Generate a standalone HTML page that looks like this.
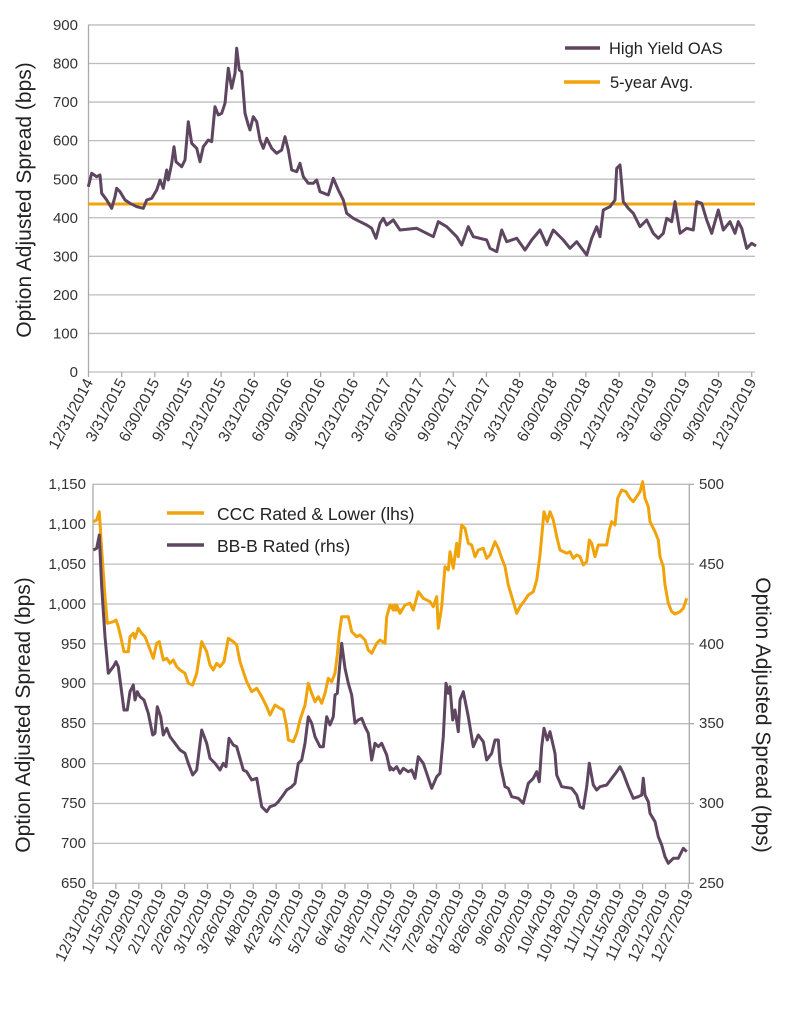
<!DOCTYPE html>
<html><head><meta charset="utf-8"><style>
html,body{margin:0;padding:0;background:#fff}
svg{display:block;font-family:"Liberation Sans",sans-serif}
</style></head><body>
<svg id="s" width="785" height="1024" viewBox="0 0 785 1024" xmlns="http://www.w3.org/2000/svg">
<g id="g1" stroke="#bdbdbd" stroke-width="1.3"></g>
<g font-size="15" fill="#333" text-anchor="end">
<text x="78" y="30">900</text><text x="78" y="68.6">800</text><text x="78" y="107.2">700</text><text x="78" y="145.7">600</text><text x="78" y="184.3">500</text><text x="78" y="222.9">400</text><text x="78" y="261.4">300</text><text x="78" y="300">200</text><text x="78" y="338.6">100</text><text x="78" y="377">0</text>
</g>
<text transform="translate(31,200) rotate(-90)" font-size="21" text-anchor="middle" fill="#222">Option Adjusted Spread (bps)</text>
<g id="xl1" font-size="15.5" fill="#333" text-anchor="end"></g>
<line x1="88" y1="204" x2="755" y2="204" stroke="#f0a30a" stroke-width="3"/>
<polyline id="p1" fill="none" stroke="#5e4560" stroke-width="3" stroke-linejoin="round"/>
<line x1="565" y1="48" x2="600" y2="48" stroke="#5e4560" stroke-width="3.5"/>
<text x="609" y="54" font-size="16.5" fill="#222">High Yield OAS</text>
<line x1="564" y1="82" x2="600" y2="82" stroke="#f0a30a" stroke-width="3.5"/>
<text x="610" y="88" font-size="16.5" fill="#222">5-year Avg.</text>

<g id="g2" stroke="#bdbdbd" stroke-width="1.3"></g>
<g font-size="15" fill="#333" text-anchor="end">
<text x="86" y="489">1,150</text><text x="86" y="529">1,100</text><text x="86" y="569">1,050</text><text x="86" y="609">1,000</text><text x="86" y="649">950</text><text x="86" y="688">900</text><text x="86" y="728">850</text><text x="86" y="768">800</text><text x="86" y="808">750</text><text x="86" y="848">700</text><text x="86" y="888">650</text>
</g>
<g font-size="15" fill="#333">
<text x="699" y="489">500</text><text x="699" y="569">450</text><text x="699" y="649">400</text><text x="699" y="728">350</text><text x="699" y="808">300</text><text x="699" y="888">250</text>
</g>
<text transform="translate(30,715) rotate(-90)" font-size="21" text-anchor="middle" fill="#222">Option Adjusted Spread (bps)</text>
<text transform="translate(756,715) rotate(90)" font-size="21" text-anchor="middle" fill="#222">Option Adjusted Spread (bps)</text>
<g id="xl2" font-size="15.5" fill="#333" text-anchor="end"></g>
<polyline id="p2" fill="none" stroke="#f0a30a" stroke-width="3" stroke-linejoin="round"/>
<polyline id="p3" fill="none" stroke="#5e4560" stroke-width="3" stroke-linejoin="round"/>
<line x1="167" y1="513" x2="204" y2="513" stroke="#f0a30a" stroke-width="3.5"/>
<text x="217" y="520" font-size="17.5" fill="#222">CCC Rated &amp; Lower (lhs)</text>
<line x1="167" y1="545" x2="204" y2="545" stroke="#5e4560" stroke-width="3.5"/>
<text x="217" y="552" font-size="17.5" fill="#222">BB-B Rated (rhs)</text>
</svg>
<script>
var NS="http://www.w3.org/2000/svg";
function el(p,t,a,txt){var e=document.createElementNS(NS,t);for(var k in a)e.setAttribute(k,a[k]);if(txt)e.textContent=txt;p.appendChild(e);return e;}
var g1=document.getElementById('g1');
for(var i=0;i<=9;i++){var y=372-i*38.56;el(g1,'line',{x1:88,x2:755,y1:y,y2:y});}
el(g1,'line',{x1:88.5,x2:88.5,y1:25,y2:372,stroke:'#aaa'});
var L1=["12/31/2014","3/31/2015","6/30/2015","9/30/2015","12/31/2015","3/31/2016","6/30/2016","9/30/2016","12/31/2016","3/31/2017","6/30/2017","9/30/2017","12/31/2017","3/31/2018","6/30/2018","9/30/2018","12/31/2018","3/31/2019","6/30/2019","9/30/2019","12/31/2019"];
var xl1=document.getElementById('xl1');
L1.forEach(function(s,i){var x=88.5+i*33.16;el(g1,'line',{x1:x,x2:x,y1:372,y2:377,stroke:'#aaa'});el(xl1,'text',{transform:'translate('+(x+5)+',382) rotate(-62)'},s);});
var g2=document.getElementById('g2');
for(var i=0;i<=10;i++){var y=484.3+i*39.9;el(g2,'line',{x1:93,x2:689,y1:y,y2:y});}
el(g2,'line',{x1:93,x2:93,y1:484,y2:884,stroke:'#aaa'});
el(g2,'line',{x1:689.3,x2:689.3,y1:484,y2:884,stroke:'#aaa'});
for(var i=0;i<=5;i++){var y=484.3+i*79.8;el(g2,'line',{x1:689,x2:694,y1:y,y2:y,stroke:'#aaa'});}
var L2=["12/31/2018","1/15/2019","1/29/2019","2/12/2019","2/26/2019","3/12/2019","3/26/2019","4/8/2019","4/23/2019","5/7/2019","5/21/2019","6/4/2019","6/18/2019","7/1/2019","7/15/2019","7/29/2019","8/12/2019","8/26/2019","9/6/2019","9/20/2019","10/4/2019","10/18/2019","11/1/2019","11/15/2019","11/29/2019","12/12/2019","12/27/2019"];
var xl2=document.getElementById('xl2');
L2.forEach(function(s,i){var x=93+i*22.9;el(g2,'line',{x1:x,x2:x,y1:884,y2:889,stroke:'#aaa'});el(xl2,'text',{transform:'translate('+(x+5)+',893) rotate(-64)'},s);});
function pts(arr,ox,oy){var o=[];for(var i=0;i<arr.length;i+=2)o.push((ox+arr[i]/3).toFixed(1)+','+(oy+arr[i+1]/3).toFixed(1));return o.join(' ');}
var a1=[265,560,275,520,290,530,300,525,305,580,320,600,335,625,345,590,350,565,360,575,375,600,390,610,410,620,430,625,440,600,455,595,470,570,480,540,490,565,500,510,505,540,515,490,522,440,528,485,545,500,555,480,565,365,575,430,590,445,600,485,610,440,625,420,635,425,645,320,655,345,665,340,675,310,685,205,695,265,705,220,710,145,718,210,725,215,735,340,745,375,750,390,760,350,770,365,780,420,790,445,800,415,815,445,830,460,845,450,855,410,865,450,875,510,890,515,900,490,910,530,925,550,940,550,950,540,960,575,985,585,1000,535,1015,570,1030,600,1040,640,1060,655,1080,665,1100,675,1115,685,1128,715,1140,670,1150,655,1160,675,1180,660,1200,690];
var a1b=[0,690,50,685,100,710,115,665,140,680,170,710,185,735,205,680,220,710,260,720,270,745,290,755,305,690,320,725,350,715,375,750,395,720,420,690,440,735,460,690,490,720,510,745,530,725,560,765,575,715,590,680,600,710,610,630,630,620,645,600,650,505,660,495,670,605,685,625,700,640,720,680,740,660,760,700,775,715,790,700,800,655,815,665,825,605,840,700,860,685,880,690,890,605,905,610,920,660,935,700,955,630,970,690,990,665,1005,700,1015,665,1025,685,1040,745,1055,730,1068,738];
document.getElementById('p1').setAttribute('points',pts(a1,0,0)+' '+pts(a1b,400,0));
var c1=[280,155,290,150,298,125,305,240,315,380,322,460,340,455,348,450,355,470,362,500,372,545,385,545,390,500,400,490,405,505,415,475,425,490,435,500,445,525,460,565,470,520,478,515,490,570,500,565,510,580,520,570,530,590,540,600,555,610,565,640,578,645,590,610,605,515,620,545,630,585,640,600,650,580,660,590,672,575,685,505,700,515,710,525,720,575,730,605,740,635,755,665,770,655,785,680,800,710,810,735,825,705,840,715,850,720,860,770,865,810,880,815,890,790,900,750,915,705,925,640,935,670,945,695,955,680,965,700,975,670,985,625,995,635,1005,610,1012,555,1018,490,1025,440,1032,440,1045,440,1055,485,1070,500,1080,495,1095,510,1105,540,1115,550,1130,520,1140,510,1155,520,1160,440,1170,405,1180,420,1200,420];
var c2=[0,410,20,405,30,430,45,405,60,400,70,420,85,365,100,385,120,395,130,410,140,380,145,475,155,410,165,290,175,300,180,245,190,295,200,220,205,260,215,165,225,175,235,220,245,225,255,260,265,240,280,235,290,265,300,255,315,215,325,235,335,265,345,290,355,345,370,395,380,430,390,410,405,390,415,375,430,365,440,330,450,255,462,125,472,155,480,125,490,150,500,200,510,240,530,250,540,245,550,265,560,255,570,260,580,285,590,275,598,210,605,220,615,260,625,225,640,225,650,225,658,180,665,155,675,165,683,85,695,60,708,65,720,85,730,95,750,65,758,35,765,85,775,110,780,155,795,185,805,210,810,260,820,290,825,345,835,400,845,425,855,432,870,425,880,415,890,385];
document.getElementById('p2').setAttribute('points',pts(c1,0,470)+' '+pts(c2,390,470));
var b1=[280,240,290,235,298,195,305,350,315,500,325,610,340,590,348,575,355,590,362,645,372,720,382,720,390,665,400,645,405,690,412,665,420,680,432,690,445,730,458,795,465,790,472,710,482,740,490,795,500,775,510,800,525,820,540,840,555,850,565,880,578,915,590,900,605,780,620,820,630,865,645,880,660,900,670,880,678,890,687,805,700,825,710,830,720,865,730,900,740,905,755,930,770,925,785,1010,800,1025,810,1010,825,1005,835,995,850,975,860,960,875,950,885,940,895,880,905,870,915,820,925,740,935,760,945,800,960,830,970,830,980,740,990,765,1000,740,1005,675,1012,670,1025,520,1035,595,1045,640,1055,675,1065,760,1075,750,1085,745,1095,770,1105,790,1115,870,1125,820,1135,830,1145,820,1160,855,1170,900];
var b2=[0,890,10,900,20,890,30,910,40,895,55,905,65,900,75,925,85,860,100,880,110,910,125,955,140,920,150,910,160,800,168,640,175,670,180,650,188,750,195,720,205,785,210,690,220,665,235,740,250,830,265,795,280,815,290,870,305,850,315,810,325,810,330,880,345,950,355,955,365,980,385,985,400,1000,415,940,430,925,440,905,448,935,455,830,462,775,472,810,480,785,495,850,500,915,515,950,545,955,560,975,570,1010,580,1015,590,950,598,880,610,945,620,960,630,950,650,945,665,925,680,905,690,890,700,910,715,950,730,985,745,980,755,975,760,925,765,975,775,995,780,1030,795,1055,805,1100,815,1125,825,1160,835,1180,850,1165,865,1165,880,1135,890,1145];
document.getElementById('p3').setAttribute('points',pts(b1,0,470)+' '+pts(b2,390,470));
</script>
</body></html>
